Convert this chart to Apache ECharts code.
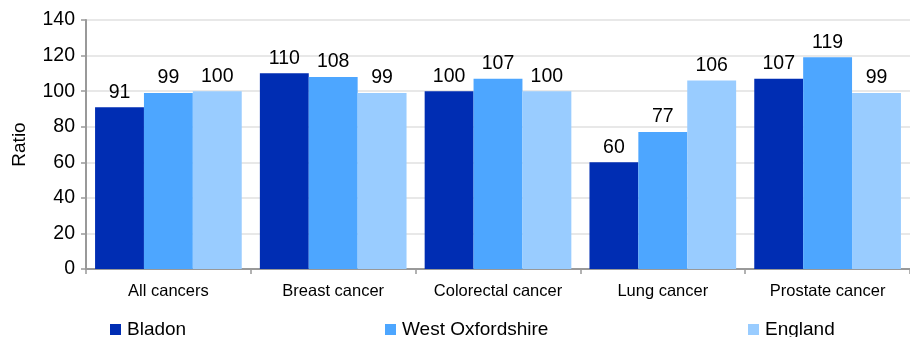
<!DOCTYPE html>
<html>
<head>
<meta charset="utf-8">
<script src="https://cdn.jsdelivr.net/npm/echarts@6/dist/echarts.min.js"></script>
<style>html,body{margin:0;padding:0;background:#fff}#c{width:910px;height:337px}</style>
</head>
<body>
<div id="c"></div>
<script>
const categories = ['All cancers', 'Breast cancer', 'Colorectal cancer', 'Lung cancer', 'Prostate cancer'];
const bladon = [91, 110, 100, 60, 107];
const westOxfordshire = [99, 108, 107, 77, 119];
const england = [100, 99, 100, 106, 99];
const seriesNames = ['Bladon', 'West Oxfordshire', 'England'];
const colors = ['#002DB3', '#4DA6FF', '#99CCFF'];

const font = 'Liberation Sans, Arial, sans-serif';
const chart = echarts.init(document.getElementById('c'), null, {renderer: 'canvas'});
const mk = (name, data, color) => ({
  name, type: 'bar', data, barGap: '0%', barCategoryGap: '11%',
  itemStyle: {color},
  label: {show: true, position: 'top', distance: 5, color: '#000', fontSize: 19.5, fontFamily: font},
  emphasis: {disabled: true}
});
const legendLefts = [110, 385, 748];
const mkLegend = (i) => ({
  data: [seriesNames[i]], left: legendLefts[i], top: 320, itemWidth: 11, itemHeight: 11,
  icon: 'rect', itemGap: 0, padding: 0, selectedMode: false,
  textStyle: {fontSize: 19, color: '#000', fontFamily: font, padding: [0, 0, 0, 1]}
});
chart.setOption({
  animation: false,
  textStyle: {fontFamily: font},
  grid: {left: 86, top: 20, bottom: 68, width: 830, containLabel: false},
  legend: [mkLegend(0), mkLegend(1), mkLegend(2)],
  xAxis: {
    type: 'category', data: categories,
    axisLine: {lineStyle: {color: '#999', width: 2}},
    axisTick: {show: true, interval: 0, length: 5, lineStyle: {color: '#999', width: 1.5}},
    axisLabel: {interval: 0, hideOverlap: false, fontSize: 16.5, color: '#000', margin: 14, fontFamily: font}
  },
  yAxis: {
    type: 'value', min: 0, max: 140, interval: 20,
    name: 'Ratio', nameLocation: 'middle', nameGap: 57, nameRotate: 90,
    nameTextStyle: {fontSize: 19, color: '#000', fontFamily: font},
    axisLine: {show: true, lineStyle: {color: '#999', width: 2}},
    axisTick: {show: true, length: 5, lineStyle: {color: '#999', width: 1.5}},
    axisLabel: {fontSize: 19.5, color: '#000', margin: 11, fontFamily: font},
    splitLine: {lineStyle: {color: '#E8E8E8', width: 2}}
  },
  series: [
    mk(seriesNames[0], bladon, colors[0]),
    mk(seriesNames[1], westOxfordshire, colors[1]),
    mk(seriesNames[2], england, colors[2])
  ]
});
</script>
</body>
</html>
